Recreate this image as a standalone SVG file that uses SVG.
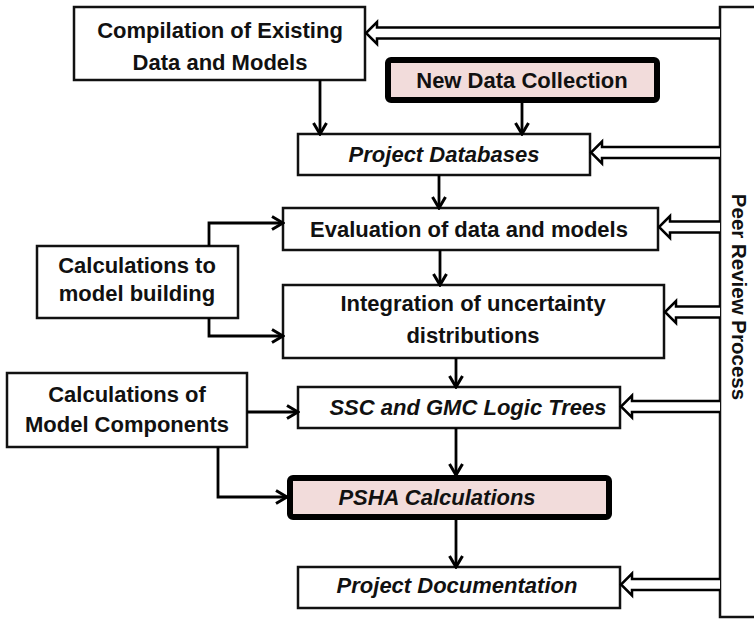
<svg xmlns="http://www.w3.org/2000/svg" width="754" height="619" viewBox="0 0 754 619">
<style>
.box{fill:#fff;stroke:#111;stroke-width:2.5}
.hot{fill:#f2dcdb;stroke:#000;stroke-width:6}
.t{font-family:"Liberation Sans",Arial,sans-serif;font-weight:bold;font-size:22px;fill:#111;text-anchor:middle}
.i{font-style:italic}
.c{fill:none;stroke:#000;stroke-width:2.8}
.d{fill:#fff;stroke:#000;stroke-width:2.5;stroke-linejoin:miter}
</style>
<defs>
<marker id="arr" viewBox="0 0 14 16" refX="12.5" refY="8" markerWidth="14" markerHeight="16" markerUnits="userSpaceOnUse" orient="auto">
<path d="M1.5,1.5 L12.5,8 L1.5,14.5" fill="none" stroke="#000" stroke-width="3"/>
</marker>
</defs>
<g id="peer">
<rect class="box" x="720" y="7" width="45" height="610"/>
<text class="t" style="font-size:20.5px" transform="translate(732,297) rotate(90)">Peer Review Process</text>
</g>
<g id="compilation">
<rect class="box" x="74" y="7" width="291" height="73"/>
<text class="t" x="220" y="38">Compilation of Existing</text>
<text class="t" x="220" y="70">Data and Models</text>
</g>
<g id="newdata">
<rect class="hot" x="388" y="60" width="269" height="40" rx="3"/>
<text class="t" x="522" y="88">New Data Collection</text>
</g>
<g id="projectdb">
<rect class="box" x="298" y="134" width="292" height="41"/>
<text class="t i" x="444" y="162">Project Databases</text>
</g>
<g id="evaluation">
<rect class="box" x="283" y="208" width="375" height="42"/>
<text class="t" x="469" y="237">Evaluation of data and models</text>
</g>
<g id="calcbuild">
<rect class="box" x="37" y="246" width="201" height="72"/>
<text class="t" x="137" y="273">Calculations to</text>
<text class="t" x="137" y="301">model building</text>
</g>
<g id="integration">
<rect class="box" x="283" y="285" width="381" height="73"/>
<text class="t" x="473" y="311">Integration of uncertainty</text>
<text class="t" x="473" y="343">distributions</text>
</g>
<g id="calccomp">
<rect class="box" x="7" y="373" width="240" height="74"/>
<text class="t" x="127" y="402">Calculations of</text>
<text class="t" x="127" y="432">Model Components</text>
</g>
<g id="ssc">
<rect class="box" x="298" y="387" width="322" height="41"/>
<text class="t i" x="468" y="415">SSC and GMC Logic Trees</text>
</g>
<g id="psha">
<rect class="hot" x="290" y="478" width="319" height="39" rx="3"/>
<text class="t i" x="437" y="505">PSHA Calculations</text>
</g>
<g id="documentation">
<rect class="box" x="298" y="567" width="322" height="41"/>
<text class="t i" x="457" y="593">Project Documentation</text>
</g>
<g id="connectors">
<path class="c" d="M320,80 V134" marker-end="url(#arr)"/>
<path class="c" d="M522,103 V134" marker-end="url(#arr)"/>
<path class="c" d="M439,175 V208" marker-end="url(#arr)"/>
<path class="c" d="M440,250 V285" marker-end="url(#arr)"/>
<path class="c" d="M456,358 V387" marker-end="url(#arr)"/>
<path class="c" d="M456,428 V475" marker-end="url(#arr)"/>
<path class="c" d="M456,520 V567" marker-end="url(#arr)"/>
<path class="c" d="M209,246 V223 H283" marker-end="url(#arr)"/>
<path class="c" d="M209,318 V336 H283" marker-end="url(#arr)"/>
<path class="c" d="M247,412 H298" marker-end="url(#arr)"/>
<path class="c" d="M218,447 V497 H287" marker-end="url(#arr)"/>
<path class="d" d="M720,27.5 H377 V22 L366,33 L377,44 V38.5 H720"/>
<path class="d" d="M720,147 H602 V141.5 L591,152.5 L602,163.5 V158 H720"/>
<path class="d" d="M720,221.5 H670 V216 L659,227 L670,238 V232.5 H720"/>
<path class="d" d="M720,306.5 H676 V301 L665,312 L676,323 V317.5 H720"/>
<path class="d" d="M720,401 H632 V395.5 L621,406.5 L632,417.5 V412 H720"/>
<path class="d" d="M720,579 H632 V573.5 L621,584.5 L632,595.5 V590 H720"/>
</g>
</svg>
